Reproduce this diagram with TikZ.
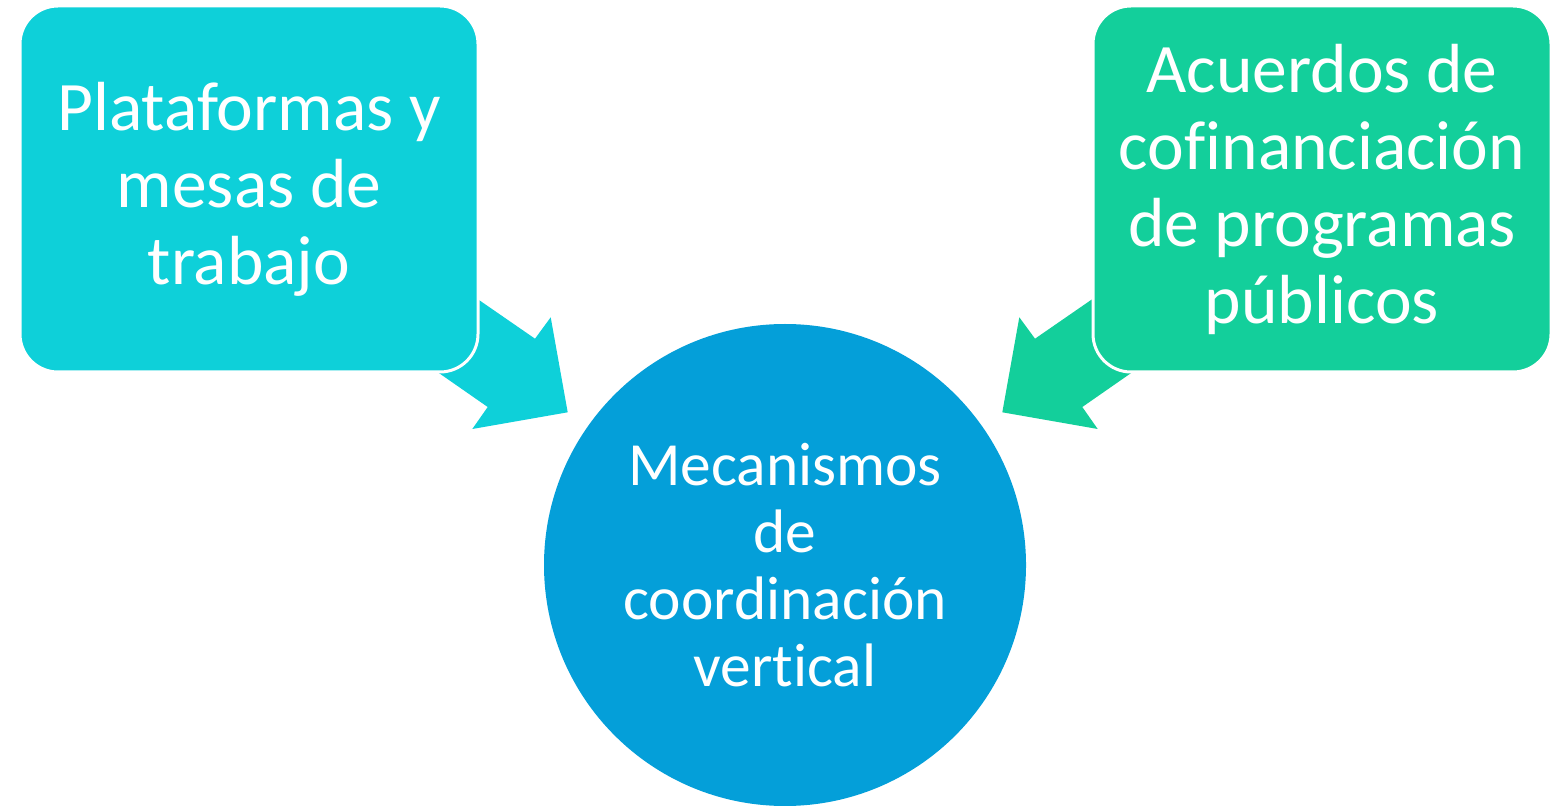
\documentclass[tikz,border=0pt]{standalone}
\usepackage{fontspec}
\setmainfont{Carlito}[Ligatures={NoCommon,NoRare,NoContextual}]
\definecolor{cyanbox}{RGB}{14,208,217}
\definecolor{greenbox}{RGB}{19,207,155}
\definecolor{bluecirc}{RGB}{4,159,217}
\tikzset{
  boxstyle/.style={rounded corners=19pt, draw=white, line width=1.5pt,
    minimum width=229pt, minimum height=183pt, inner sep=0pt, align=center,
    text=white, font=\fontsize{34.75}{38.5}\selectfont},
  circstyle/.style={circle, minimum size=241pt, inner sep=0pt, align=center,
    fill=bluecirc, text=white, font=\fontsize{30.7}{33.5}\selectfont},
}
\begin{document}
\begin{tikzpicture}[x=0.5pt,y=-0.5pt]
\useasboundingbox (0,0) rectangle (1556,806);
% block arrows (behind boxes)
\fill[cyanbox] (430.6,266.6) -- (535,338.7) -- (550.7,317.3) -- (567.7,412.3)
  -- (472.3,429) -- (487.7,407) -- (391.3,339.9) -- cycle;
\fill[greenbox] (1139.4,266.6) -- (1035,338.7) -- (1019.3,317.3) -- (1002.3,412.3)
  -- (1097.7,429) -- (1082.3,407) -- (1178.7,339.9) -- cycle;
% boxes
\node[boxstyle, fill=cyanbox] (pl) at (249,189) {Plataformas y\\mesas de\\trabajo};
\node[boxstyle, fill=greenbox] (ac) at (1322,189) {Acuerdos de\\cofinanciación\\de programas\\públicos};
% circle
\node[circstyle] (me) at (785,565) {Mecanismos\\de\\coordinación\\vertical};
\end{tikzpicture}
\end{document}
